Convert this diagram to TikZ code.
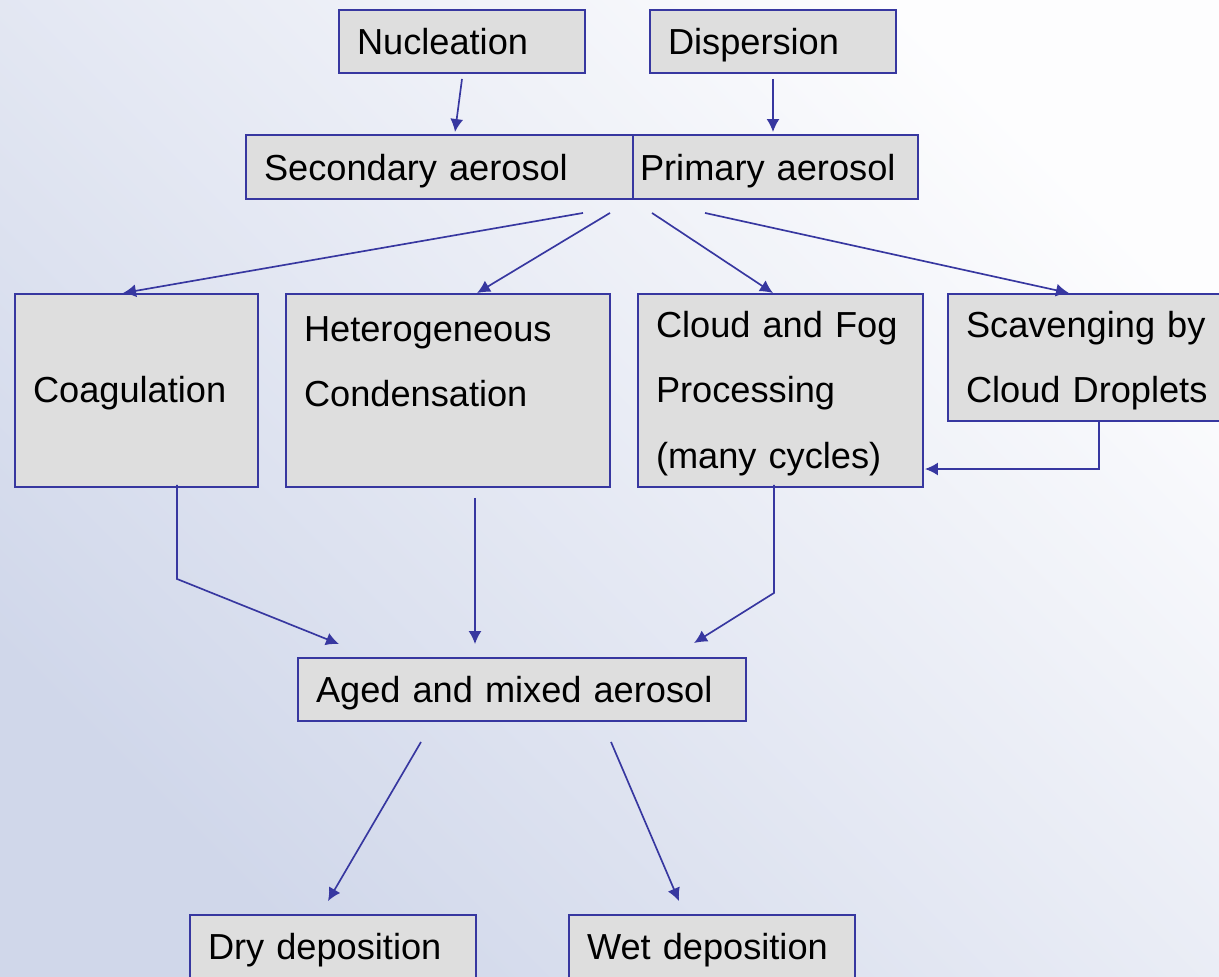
\documentclass[tikz,border=0pt]{standalone}
\usepackage{fontspec}
\setmainfont{Liberation Sans}
\usetikzlibrary{arrows.meta,calc}
\definecolor{boxblue}{RGB}{55,55,160}
\definecolor{boxgrey}{RGB}{222,222,222}
\definecolor{bgblue}{RGB}{208,215,234}
\definecolor{bgwhite}{RGB}{253,253,254}
\begin{document}
\begin{tikzpicture}
  [x=0.02cm,y=-0.02cm,
   every node/.style={rectangle,draw=boxblue,fill=boxgrey,line width=1.1pt,
     align=left,inner xsep=0.36cm,inner ysep=0pt,
     font=\fontsize{20.6}{37}\selectfont}]
  \tikzstyle{flow} = [draw=boxblue,line width=0.95pt,-{Latex[length=0.26cm,width=0.26cm]}]
  \tikzstyle{single} = [text height=16pt,text depth=1pt,minimum height=1.26cm]
  \tikzstyle{multi} = [execute at begin node={\rule{0pt}{18.5pt}}]
  \useasboundingbox (0,0) rectangle (1219,976);
  \clip (0,0) rectangle (1219,976);
  \shade[top color=bgwhite,bottom color=bgblue,shading angle=-45] (0,0) rectangle (1219,976);
  % sources
  \node[single] (nuc)  at (462,41.5) [text width=4.2cm] {Nucleation};
  \node[single] (disp) at (773,41.5) [text width=4.2cm] {Dispersion};
  \node[single] (sec)  at (439.5,167) [text width=7.02cm,minimum height=1.28cm] {Secondary aerosol};
  \node[single] (prim) at (775.5,167) [inner xsep=0.14cm,text width=5.42cm,minimum height=1.28cm] {Primary aerosol};
  % processes
  \node[multi] (coag)  at (136.5,390.5) [text width=4.14cm,minimum height=3.86cm] {Coagulation};
  \node[multi] (het)   at (448,390.5)   [text width=5.76cm,minimum height=3.86cm] {Heterogeneous\\Condensation\\\mbox{}};
  \node[multi] (cloud) at (780.5,390.5) [text width=4.98cm,minimum height=3.86cm] {Cloud and Fog\\Processing\\(many cycles)};
  \node[multi] (scav)  at (1091,357.5)  [text width=5.0cm,minimum height=2.54cm] {Scavenging by\\Cloud Droplets};
  % sinks
  \node[single] (aged) at (522,689.5) [text width=8.24cm] {Aged and mixed aerosol};
  \node[single] (dry)  at (333,946.5) [text width=5.0cm] {Dry deposition};
  \node[single] (wet)  at (712,946.5) [text width=5.0cm] {Wet deposition};

  \draw[flow] ($(nuc.south)+(0,5)$) -- ($(sec.north)+(15.5,-2)$);
  \draw[flow] ($(disp.south)+(0,5)$) -- ($(prim.north)+(-2.5,-2)$);
  \foreach \src/\dx/\dest/\ex in {sec/143.5/coag/-13.5,sec/170.5/het/29,prim/-123.5/cloud/-7.5,prim/-70.5/scav/-22}
    \draw[flow] ($(\src.south)+(\dx,13)$) -- ($(\dest.north)+(\ex,0)$);
  \draw[flow] ($(scav.south)+(8,0)$) |- ($(cloud.east)+(1,78.5)$);
  \draw[flow] ($(coag.south)+(40.5,-3)$) -- ++(0,94) -- ($(aged.north)+(-183,-13)$);
  \draw[flow] ($(het.south)+(27,10)$) -- ($(aged.north)+(-47,-13)$);
  \draw[flow] ($(cloud.south)+(-6.5,-3)$) -- ++(0,108) -- ($(aged.north)+(172,-14)$);
  \draw[flow] ($(aged.south)+(-101,20)$) -- ($(dry.north)+(-5,-13)$);
  \draw[flow] ($(aged.south)+(89,20)$) -- ($(wet.north)+(-33,-13)$);
\end{tikzpicture}
\end{document}
